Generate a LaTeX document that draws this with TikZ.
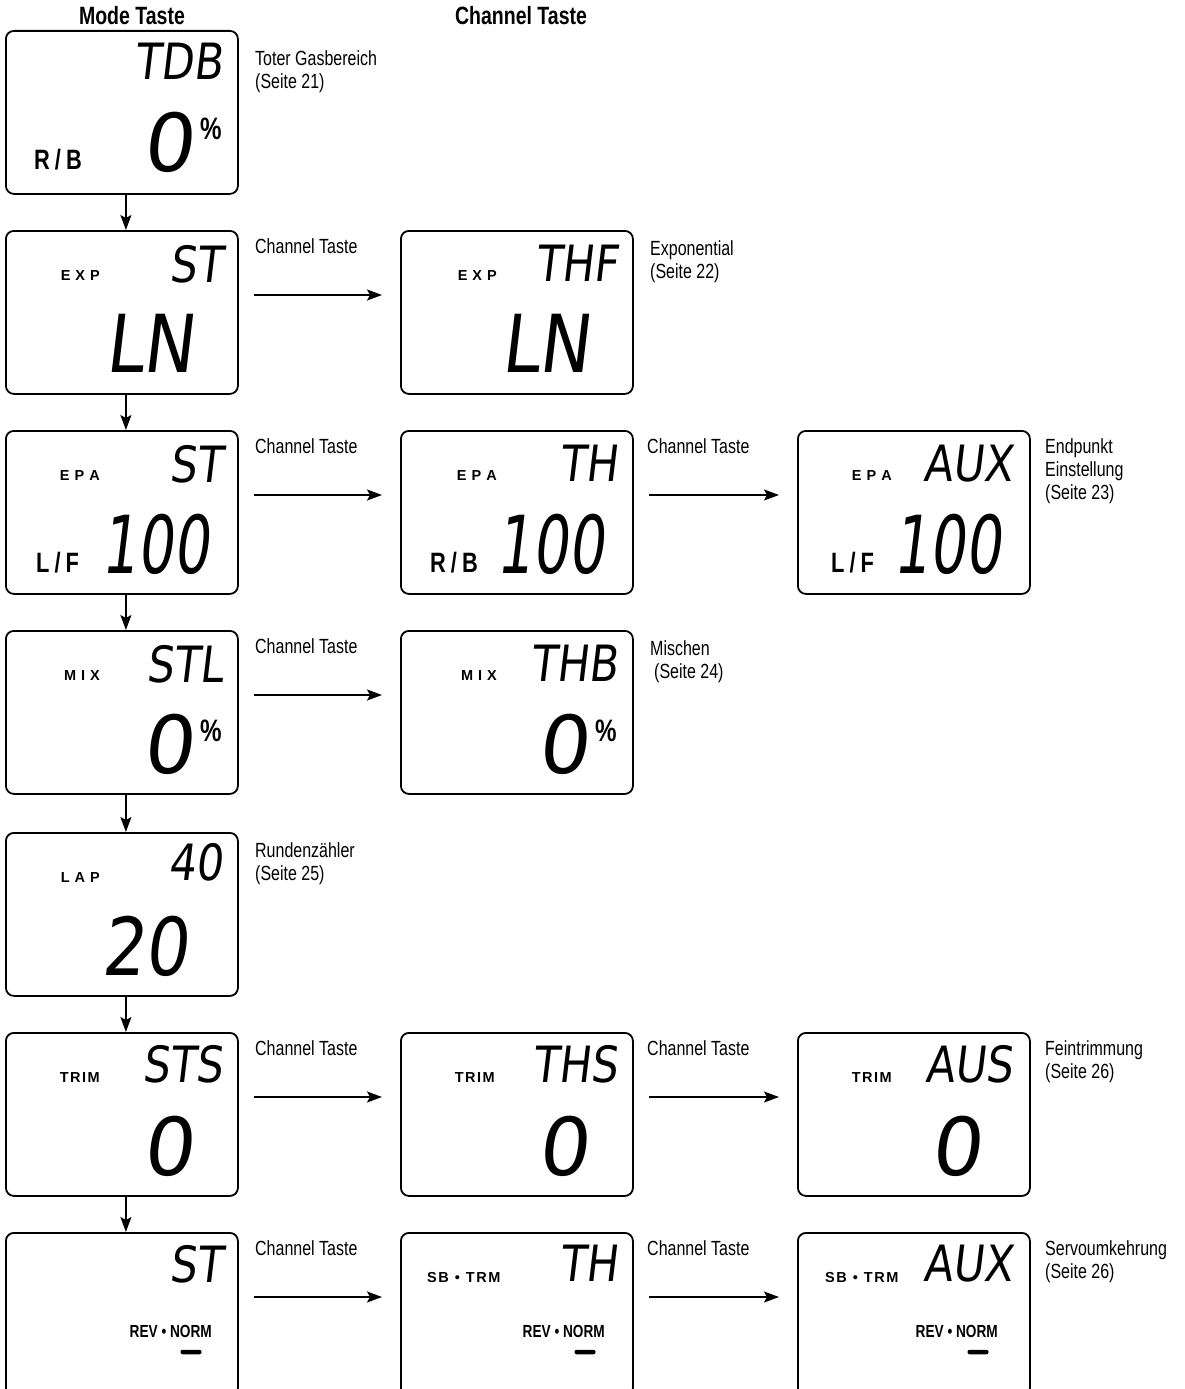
\documentclass[tikz,border=0pt]{standalone}
\usepackage{fontspec}
\setmainfont{Liberation Sans}[FakeStretch=0.78]
\newfontfamily\tagfont{Liberation Sans}
\newfontfamily\lcdfont{DejaVu Sans}[FakeSlant=0.12,FakeStretch=0.85]
\newfontfamily\lcdplain{DejaVu Sans}[FakeSlant=0.12]
\newfontfamily\lcdnarrow{DejaVu Sans}[FakeSlant=0.12,FakeStretch=0.7]
\usetikzlibrary{arrows.meta,calc}

\begin{document}
\begin{tikzpicture}[
  x=1pt, y=-1pt,
  disp/.style={draw, line width=1.8pt, rounded corners=8pt, anchor=north west,
               minimum width=232pt, minimum height=163pt, inner sep=0pt},
  seg/.style={font=\lcdfont\fontsize{50}{50}\selectfont, anchor=north east, inner sep=0pt},
  bigseg/.style={font=\lcdfont\fontsize{80}{80}\selectfont, anchor=south east, inner sep=0pt},
  zeroseg/.style={bigseg, font=\lcdplain\fontsize{80}{80}\selectfont},
  narrowseg/.style={bigseg, font=\lcdnarrow\fontsize{80}{80}\selectfont},
  tag/.style={font=\tagfont\bfseries\fontsize{14.5}{14.5}\selectfont, anchor=base east, inner sep=0pt},
  side/.style={font=\bfseries\fontsize{28}{28}\selectfont, anchor=base west, inner sep=0pt},
  pct/.style={font=\bfseries\fontsize{31}{31}\selectfont, anchor=north west, inner sep=0pt},
  rev/.style={font=\bfseries\fontsize{17.5}{17.5}\selectfont, anchor=base east, inner sep=0pt},
  minus/.style={fill, minimum width=21pt, minimum height=4.5pt, inner sep=0pt, rounded corners=2pt},
  key/.style={font=\fontsize{20.5}{23}\selectfont, anchor=base west, inner sep=0pt},
  note/.style={font=\fontsize{20.5}{23}\selectfont, anchor=north west, align=left, inner sep=0pt},
  head/.style={font=\bfseries\fontsize{25}{25}\selectfont, anchor=base, inner sep=0pt},
  arr/.style={-{Stealth[length=15pt,width=11pt,inset=3pt]}, line width=1.6pt}
]
  \useasboundingbox (0,0) rectangle (1185,1389);

  \node[head] (hmode) at (132,25) {Mode Taste};
  \node[head] (hchan) at (521,25) {Channel Taste};

  % Mode Taste column
  \node[disp] (tdb) at (5,30) {};
  \node[seg] (tdbA) at (223,43) {TDB};
  \node[zeroseg] (tdbB) at (194,173) {0};
  \node[pct] (tdbP) at (200,118) {\%};
  \node[side] (tdbS) at (34,169) {R\kern5pt/\kern5pt B};
  \node[note] (tdbN) at (255,50) {Toter Gasbereich\\(Seite 21)};

  \node[disp] (expst) at (5,230) {};
  \node[seg] (expstA) at (223,245) {ST};
  \node[tag] (expstT) at (100,280) {E\kern5pt X\kern5pt P};
  \node[bigseg] (expstB) at (194,373) {LN};
  \node[key] (expstK) at (255,253) {Channel Taste};

  \node[disp] (epast) at (5,430) {};
  \node[seg] (epastA) at (223,445) {ST};
  \node[tag] (epastT) at (100,480) {E\kern5pt P\kern5pt A};
  \node[side] (epastS) at (36,572) {L\kern5pt/\kern5pt F};
  \node[narrowseg] (epastB) at (209,575) {100};
  \node[key] (epastK) at (255,453) {Channel Taste};

  \node[disp] (mixst) at (5,630) {};
  \node[seg] (mixstA) at (223,645) {STL};
  \node[tag] (mixstT) at (100,680) {M\kern5pt I\kern5pt X};
  \node[zeroseg] (mixstB) at (194,775) {0};
  \node[pct] (mixstP) at (200,720) {\%};
  \node[key] (mixstK) at (255,653) {Channel Taste};

  \node[disp] (lap) at (5,832) {};
  \node[seg] (lapA) at (223,843) {40};
  \node[tag] (lapT) at (100,882) {L\kern5pt A\kern5pt P};
  \node[bigseg] (lapB) at (188,977) {20};
  \node[note] (lapN) at (255,842) {Rundenzähler\\(Seite 25)};

  \node[disp] (trimst) at (5,1032) {};
  \node[seg] (trimstA) at (223,1045) {STS};
  \node[tag] (trimstT) at (100,1082) {T\kern1.5pt R\kern1.5pt I\kern1.5pt M};
  \node[zeroseg] (trimstB) at (194,1177) {0};
  \node[key] (trimstK) at (255,1055) {Channel Taste};

  \node[disp] (revst) at (5,1232) {};
  \node[seg] (revstA) at (223,1245) {ST};
  \node[rev] (revstR) at (212,1337) {REV • NORM};
  \node[minus] (revstM) at (191,1352) {};
  \node[key] (revstK) at (255,1255) {Channel Taste};

  % Channel Taste column
  \node[disp] (expth) at (400,230) {};
  \node[seg] (expthA) at (618,245) {THF};
  \node[tag] (expthT) at (497,280) {E\kern5pt X\kern5pt P};
  \node[bigseg] (expthB) at (590,373) {LN};
  \node[note] (expthN) at (650,240) {Exponential\\(Seite 22)};

  \node[disp] (epath) at (400,430) {};
  \node[seg] (epathA) at (618,445) {TH};
  \node[tag] (epathT) at (497,480) {E\kern5pt P\kern5pt A};
  \node[side] (epathS) at (430,572) {R\kern5pt/\kern5pt B};
  \node[narrowseg] (epathB) at (604,575) {100};
  \node[key] (epathK) at (647,453) {Channel Taste};

  \node[disp] (mixth) at (400,630) {};
  \node[seg] (mixthA) at (618,645) {THB};
  \node[tag] (mixthT) at (497,680) {M\kern5pt I\kern5pt X};
  \node[zeroseg] (mixthB) at (589,775) {0};
  \node[pct] (mixthP) at (595,720) {\%};
  \node[note] (mixthN) at (650,640) {Mischen\\\hspace{4pt}(Seite 24)};

  \node[disp] (trimth) at (400,1032) {};
  \node[seg] (trimthA) at (618,1045) {THS};
  \node[tag] (trimthT) at (495,1082) {T\kern1.5pt R\kern1.5pt I\kern1.5pt M};
  \node[zeroseg] (trimthB) at (589,1177) {0};
  \node[key] (trimthK) at (647,1055) {Channel Taste};

  \node[disp] (revth) at (400,1232) {};
  \node[seg] (revthA) at (618,1245) {TH};
  \node[tag, anchor=base west] (revthT) at (427,1282) {S\kern1.5pt B\kern2pt{} • \kern2pt T\kern1.5pt R\kern1.5pt M};
  \node[rev] (revthR) at (605,1337) {REV • NORM};
  \node[minus] (revthM) at (585,1352) {};
  \node[key] (revthK) at (647,1255) {Channel Taste};

  % third column
  \node[disp] (epaaux) at (797,430) {};
  \node[seg] (epaauxA) at (1013,445) {AUX};
  \node[tag] (epaauxT) at (892,480) {E\kern5pt P\kern5pt A};
  \node[side] (epaauxS) at (831,572) {L\kern5pt/\kern5pt F};
  \node[narrowseg] (epaauxB) at (1001,575) {100};
  \node[note] (epaauxN) at (1045,438) {Endpunkt\\Einstellung\\(Seite 23)};

  \node[disp] (trimaux) at (797,1032) {};
  \node[seg] (trimauxA) at (1013,1045) {AUS};
  \node[tag] (trimauxT) at (892,1082) {T\kern1.5pt R\kern1.5pt I\kern1.5pt M};
  \node[zeroseg] (trimauxB) at (982,1177) {0};
  \node[note] (trimauxN) at (1045,1040) {Feintrimmung\\(Seite 26)};

  \node[disp] (revaux) at (797,1232) {};
  \node[seg] (revauxA) at (1013,1245) {AUX};
  \node[tag, anchor=base west] (revauxT) at (825,1282) {S\kern1.5pt B\kern2pt{} • \kern2pt T\kern1.5pt R\kern1.5pt M};
  \node[rev] (revauxR) at (998,1337) {REV • NORM};
  \node[minus] (revauxM) at (978,1352) {};
  \node[note] (revauxN) at (1045,1240) {Servoumkehrung\\(Seite 26)};

  % Mode Taste steps
  \draw[arr] ([xshift=4pt]tdb.south) -- ([xshift=4pt]expst.north);
  \draw[arr] ([xshift=4pt]expst.south) -- ([xshift=4pt]epast.north);
  \draw[arr] ([xshift=4pt]epast.south) -- ([xshift=4pt]mixst.north);
  \draw[arr] ([xshift=4pt]mixst.south) -- ([xshift=4pt]lap.north);
  \draw[arr] ([xshift=4pt]lap.south) -- ([xshift=4pt]trimst.north);
  \draw[arr] ([xshift=4pt]trimst.south) -- ([xshift=4pt]revst.north);

  % Channel Taste steps
  \draw[arr] ($(expst.north east)+(15,65)$) -- ($(expth.north west)+(-18,65)$);
  \draw[arr] ($(epast.north east)+(15,65)$) -- ($(epath.north west)+(-18,65)$);
  \draw[arr] ($(epath.north east)+(15,65)$) -- ($(epaaux.north west)+(-18,65)$);
  \draw[arr] ($(mixst.north east)+(15,65)$) -- ($(mixth.north west)+(-18,65)$);
  \draw[arr] ($(trimst.north east)+(15,65)$) -- ($(trimth.north west)+(-18,65)$);
  \draw[arr] ($(trimth.north east)+(15,65)$) -- ($(trimaux.north west)+(-18,65)$);
  \draw[arr] ($(revst.north east)+(15,65)$) -- ($(revth.north west)+(-18,65)$);
  \draw[arr] ($(revth.north east)+(15,65)$) -- ($(revaux.north west)+(-18,65)$);
\end{tikzpicture}
\end{document}
